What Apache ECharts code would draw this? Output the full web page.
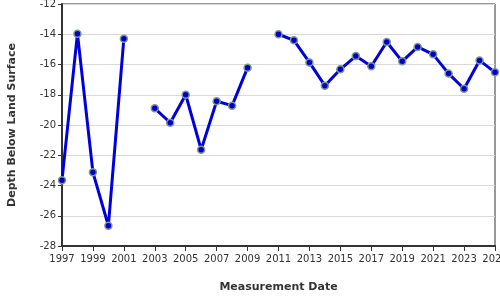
<!DOCTYPE html>
<html><head><meta charset="utf-8">
<script src="https://cdn.jsdelivr.net/npm/echarts@6/dist/echarts.min.js"></script>
<style>html,body{margin:0;padding:0;background:#fff}#c{width:500px;height:300px}</style>
</head><body><div id="c"></div>
<script>
var years = [1997,1998,1999,2000,2001,2002,2003,2004,2005,2006,2007,2008,2009,2010,2011,2012,2013,2014,2015,2016,2017,2018,2019,2020,2021,2022,2023,2024,2025];
var depths = [-23.65,-13.96,-23.13,-26.66,-14.29,null,-18.9,-19.85,-18.0,-21.63,-18.43,-18.72,-16.21,null,-14.0,-14.4,-15.86,-17.4,-16.32,-15.44,-16.12,-14.51,-15.79,-14.84,-15.33,-16.6,-17.6,-15.73,-16.52];
var xTitle = 'Measurement Date';
var yTitle = 'Depth Below Land Surface';

var data = years.map(function(y,i){ return [y, depths[i] === null ? '-' : depths[i]]; });
var chart = echarts.init(document.getElementById('c'), null, {renderer:'canvas'});
chart.setOption({
  animation:false,
  grid:{left:62,right:5,top:4,bottom:54,containLabel:false,outerBoundsMode:'none',show:true,borderColor:'#333',borderWidth:1,backgroundColor:'#fff'},
  xAxis:{type:'value',min:1997,max:2025,interval:2,
    name:xTitle,nameLocation:'middle',nameGap:36,
    nameTextStyle:{fontFamily:'DejaVu Sans',fontWeight:'bold',fontSize:11,color:'#333'},
    axisLine:{lineStyle:{color:'#333',width:2}},
    axisTick:{show:true,length:5,lineStyle:{color:'#333',width:1}},
    axisLabel:{fontFamily:'DejaVu Sans',fontSize:10,color:'#333',margin:8,hideOverlap:false,formatter:function(v){return String(v);}},
    splitLine:{show:false}},
  yAxis:{type:'value',min:-28,max:-12,interval:2,
    name:yTitle,nameLocation:'middle',nameGap:44,
    nameTextStyle:{fontFamily:'DejaVu Sans',fontWeight:'bold',fontSize:11,color:'#333'},
    axisLine:{show:true,lineStyle:{color:'#333',width:2}},
    axisTick:{show:true,length:4,lineStyle:{color:'#333'}},
    axisLabel:{fontFamily:'DejaVu Sans',fontSize:10,color:'#333',margin:6},
    splitLine:{show:true,lineStyle:{color:'#d9d9d9',width:1}}},
  series:[{type:'line',data:data,connectNulls:false,
    lineStyle:{color:'#0000dd',width:3},
    symbol:'circle',symbolSize:7,
    itemStyle:{color:'#0000cc',borderColor:'#7d9a86',borderWidth:1.5}}]
});
</script></body></html>
